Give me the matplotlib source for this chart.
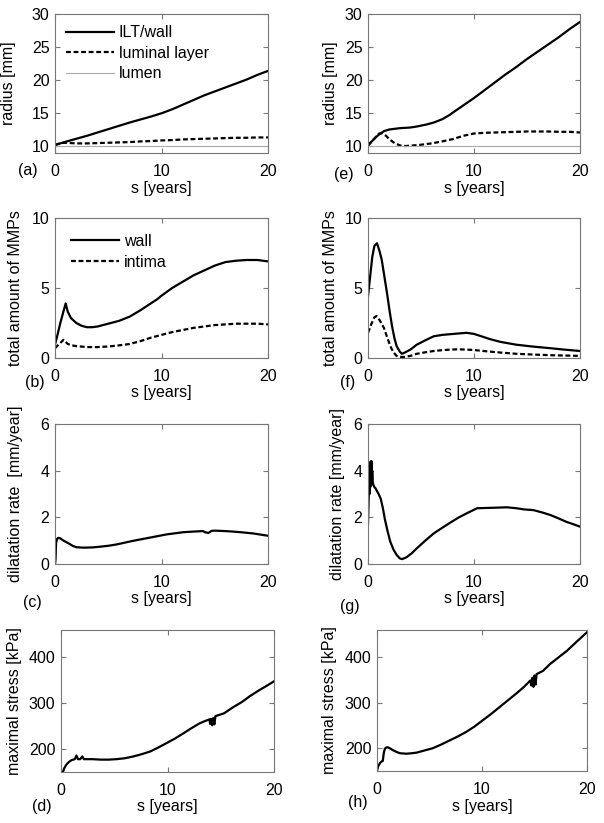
import matplotlib
matplotlib.use("Agg")
from matplotlib import pyplot as plt

plt.rcParams['font.family'] = ['Liberation Sans', 'DejaVu Sans']
plt.rcParams['font.size'] = 11.5

# (a) radius, case 1
s_a_wall = [0, 1, 2, 3, 4, 5, 6, 7, 8, 9, 10, 11, 12, 13, 14, 15, 16, 17, 18, 19, 20]
r_a_wall = [10.2, 10.7, 11.15, 11.6, 12.1, 12.6, 13.1, 13.6, 14.05, 14.5, 15.0, 15.6, 16.3,
            17.0, 17.7, 18.3, 18.9, 19.5, 20.1, 20.8, 21.4]
s_a_lum = [0, 0.5, 1, 2, 3, 4, 5, 6, 7, 8, 9, 10, 11, 12, 13, 14, 15, 16, 17, 18, 19, 20]
r_a_lum = [10.2, 10.5, 10.55, 10.45, 10.45, 10.5, 10.55, 10.6, 10.65, 10.75, 10.8, 10.9,
           10.95, 11.05, 11.1, 11.15, 11.2, 11.25, 11.3, 11.3, 11.35, 11.35]
s_lumen = [0, 20]
r_lumen = [10, 10]

# (e) radius, case 2
s_e_wall = [0, 0.5, 1, 1.5, 2, 3, 4, 4.6, 5.5, 6.2, 7, 7.75, 8, 9, 10, 11, 12, 13, 14, 15,
            16, 17, 18, 19, 20]
r_e_wall = [10.15, 11.0, 11.75, 12.3, 12.55, 12.75, 12.85, 13.0, 13.3, 13.6, 14.1, 14.8,
            15.1, 16.2, 17.3, 18.5, 19.7, 20.9, 22.0, 23.2, 24.3, 25.4, 26.5, 27.7, 28.8]
s_e_lum = [0, 0.5, 1, 1.3, 1.7, 2, 2.5, 3, 3.5, 4, 5, 6, 7, 8, 9, 10, 11, 12, 13, 14, 15,
           16, 17, 18, 19, 20]
r_e_lum = [10.15, 11.0, 11.9, 12.0, 11.6, 11.1, 10.5, 10.15, 10.05, 10.1, 10.25, 10.45,
           10.75, 11.1, 11.6, 11.95, 12.05, 12.1, 12.15, 12.2, 12.25, 12.25, 12.25, 12.2,
           12.2, 12.1]

# (b) MMPs, case 1
s_b_wall = [0, 0.25, 0.5, 0.75, 1.0, 1.2, 1.5, 2, 2.5, 3, 3.5, 4, 5, 6, 7, 8, 9, 9.6, 10,
            11, 12, 13, 14, 15, 16, 17, 18, 19, 20]
m_b_wall = [0.95, 1.7, 2.5, 3.2, 3.9, 3.3, 2.85, 2.5, 2.3, 2.2, 2.2, 2.25, 2.45, 2.65,
            2.95, 3.4, 3.9, 4.2, 4.45, 5.0, 5.45, 5.9, 6.25, 6.6, 6.85, 6.95, 7.0, 7.0, 6.9]
s_b_int = [0, 0.4, 0.8, 1.2, 1.6, 2, 3, 4, 5, 6, 7, 8, 9, 10, 11, 12, 13, 14, 15, 16, 17,
           18, 19, 20]
m_b_int = [0.7, 1.0, 1.3, 1.0, 0.9, 0.85, 0.78, 0.78, 0.82, 0.9, 1.0, 1.2, 1.45, 1.65,
           1.85, 2.0, 2.15, 2.25, 2.35, 2.4, 2.45, 2.45, 2.45, 2.4]

# (f) MMPs, case 2
s_f_wall = [0, 0.2, 0.4, 0.6, 0.85, 1.1, 1.3, 1.55, 1.8, 2.05, 2.26, 2.5, 2.7, 3.0, 3.2,
            3.5, 4, 4.6, 5.5, 6.2, 7, 7.75, 8.5, 9.3, 10, 10.5, 11.5, 12.5, 14, 15.5, 17.2,
            18.5, 20]
m_f_wall = [4.4, 5.8, 7.2, 8.0, 8.2, 7.6, 7.0, 5.8, 4.6, 3.3, 2.3, 1.4, 0.85, 0.45, 0.3,
            0.4, 0.6, 0.95, 1.3, 1.55, 1.65, 1.7, 1.75, 1.8, 1.72, 1.6, 1.35, 1.15, 0.95,
            0.82, 0.7, 0.6, 0.5]
s_f_int = [0, 0.3, 0.6, 0.8, 1.1, 1.5, 1.8, 2.1, 2.4, 2.7, 3.0, 3.4, 4, 4.6, 5.5, 6.2, 7,
           7.75, 8.5, 9.3, 10, 10.9, 12, 14, 15.5, 17.2, 20]
m_f_int = [1.8, 2.4, 2.9, 3.0, 2.7, 2.15, 1.5, 0.85, 0.4, 0.15, 0.08, 0.07, 0.15, 0.3,
           0.42, 0.5, 0.56, 0.6, 0.62, 0.6, 0.57, 0.5, 0.42, 0.3, 0.25, 0.2, 0.15]

# (c) dilatation rate, case 1
s_c = [0, 0.05, 0.1, 0.2, 0.3, 0.5, 0.8, 1.1, 1.4, 1.7, 2, 2.65, 3.5, 4.2, 5, 5.8, 7.3,
       8.9, 10.5, 12, 13, 13.9, 14.1, 14.4, 14.7, 15, 16, 16.7, 17.5, 18.6, 19.3, 20]
d_c = [0.0, 0.2, 0.9, 1.08, 1.12, 1.1, 1.0, 0.93, 0.85, 0.77, 0.72, 0.7, 0.71, 0.74, 0.78,
       0.84, 0.99, 1.13, 1.27, 1.36, 1.39, 1.41, 1.36, 1.33, 1.42, 1.43, 1.41, 1.39, 1.36,
       1.31, 1.26, 1.21]

# (g) dilatation rate, case 2
s_g = [0, 0.05, 0.1, 0.15, 0.2, 0.22, 0.25, 0.27, 0.3, 0.32, 0.35, 0.37, 0.4, 0.45, 0.5,
       0.6, 0.7, 1.0, 1.2, 1.4, 1.6, 1.85, 2.1, 2.4, 2.7, 3.0, 3.2, 3.5, 3.7, 4.1, 4.6,
       5.4, 6.2, 7, 7.75, 8.5, 9.3, 10.3, 11, 11.8, 13.1, 14, 14.7, 15.6, 16.5, 17.2, 18,
       18.7, 19.4, 20]
d_g = [1.7, 2.6, 3.4, 3.0, 4.2, 3.3, 4.4, 3.5, 4.3, 3.4, 4.4, 3.6, 4.0, 3.5, 3.4, 3.3,
       3.25, 3.0, 2.8, 2.4, 1.9, 1.4, 0.96, 0.62, 0.39, 0.24, 0.21, 0.26, 0.31, 0.45, 0.67,
       1.0, 1.31, 1.55, 1.77, 1.98, 2.17, 2.39, 2.4, 2.41, 2.43, 2.39, 2.34, 2.31, 2.2,
       2.1, 1.95, 1.81, 1.7, 1.6]

# (d) maximal stress, case 1
s_d = [0.1, 0.3, 0.5, 0.75, 1.0, 1.3, 1.45, 1.6, 1.8, 2.0, 2.15, 2.5, 3, 3.7, 4.5, 5.2,
       6, 6.8, 7.6, 8.4, 9.1, 9.9, 10.7, 11.5, 12.2, 13, 13.5, 13.95, 14.0, 14.1, 14.2,
       14.3, 14.4, 14.5, 15.3, 16.2, 17, 17.7, 18.5, 19.3, 20]
p_d = [145, 158, 166, 172, 176, 178, 186, 178, 178, 184, 178, 178, 178, 177, 177, 178,
       180, 184, 189, 195, 203, 213, 223, 234.5, 245, 256, 261, 265, 255, 266, 252, 268,
       254, 272, 278, 292, 303, 315, 327, 338, 348]

# (h) maximal stress, case 2
s_h = [0, 0.1, 0.3, 0.45, 0.55, 0.65, 0.75, 0.9, 1.05, 1.3, 1.5, 1.85, 2.2, 2.8, 3.3,
       3.8, 4.5, 5.3, 6.1, 6.9, 7.7, 8.5, 9.3, 10.1, 10.9, 11.7, 12.5, 13.3, 14.0, 14.6,
       14.7, 14.8, 14.9, 15.0, 15.1, 15.2, 15.8, 16.5, 17.3, 18.1, 19, 20]
p_h = [150, 160, 168, 171, 172, 190, 199, 202, 202, 199, 196, 192, 189, 188, 189, 190.5,
       195, 200, 208, 217, 226, 236, 248, 262, 276, 291, 306, 321, 335, 349, 338, 355,
       335, 360, 340, 363, 370, 385.5, 400, 414.5, 434, 455]

W, H = 604, 823
fig = plt.figure(figsize=(W / 100, H / 100), dpi=100)


def add_ax(left, right, top, bottom, ylabel, label_x):
    ax = fig.add_axes([left / W, 1 - bottom / H, (right - left) / W, (bottom - top) / H])
    for sp in ax.spines.values():
        sp.set_color('#777777')
        sp.set_linewidth(0.8)
    ax.tick_params(direction='in', top=True, right=True, length=3.5, color='#777777',
                   width=0.8, labelsize=11.5, pad=4)
    ax.tick_params(axis='x', pad=8)
    ax.set_xlim(0, 20)
    ax.set_xticks([0, 10, 20])
    ax.set_xlabel('s [years]', labelpad=1)
    ax.set_ylabel(ylabel)
    ax.yaxis.set_label_coords((label_x - left) / (right - left), 0.5)
    return ax


lw = 1.6
dash = (2.2, 1.2)

ax = add_ax(55, 268, 14, 153, 'radius [mm]', 16)
ax.plot(s_a_wall, r_a_wall, 'k-', lw=lw, label='ILT/wall')
ax.plot(s_a_lum, r_a_lum, 'k--', lw=lw, dashes=dash, label='luminal layer')
ax.plot(s_lumen, r_lumen, '-', color='#aaaaaa', lw=0.8, label='lumen')
ax.set_ylim(9, 30)
ax.set_yticks([10, 15, 20, 25, 30])
ax.legend(loc='upper left', frameon=False, handlelength=3.0, borderaxespad=0.3,
          labelspacing=0.35, handletextpad=0.3, fontsize=11.5)

ax = add_ax(368, 580, 14, 153, 'radius [mm]', 338)
ax.plot(s_e_wall, r_e_wall, 'k-', lw=lw)
ax.plot(s_e_lum, r_e_lum, 'k--', lw=lw, dashes=dash)
ax.plot(s_lumen, r_lumen, '-', color='#aaaaaa', lw=0.8)
ax.set_ylim(9, 30)
ax.set_yticks([10, 15, 20, 25, 30])

ax = add_ax(55, 268, 218, 358, 'total amount of MMPs', 23)
ax.plot(s_b_wall, m_b_wall, 'k-', lw=lw, label='wall')
ax.plot(s_b_int, m_b_int, 'k--', lw=lw, dashes=dash, label='intima')
ax.set_ylim(0, 10)
ax.set_yticks([0, 5, 10])
ax.legend(loc='upper left', frameon=False, handlelength=3.0, borderaxespad=0.6,
          labelspacing=0.35, handletextpad=0.3, fontsize=11.5)

ax = add_ax(368, 580, 218, 358, 'total amount of MMPs', 338)
ax.plot(s_f_wall, m_f_wall, 'k-', lw=lw)
ax.plot(s_f_int, m_f_int, 'k--', lw=lw, dashes=dash)
ax.set_ylim(0, 10)
ax.set_yticks([0, 5, 10])

ax = add_ax(55, 268, 424, 564, 'dilatation rate  [mm/year]', 23)
ax.plot(s_c, d_c, 'k-', lw=lw)
ax.set_ylim(0, 6)
ax.set_yticks([0, 2, 4, 6])

ax = add_ax(368, 580, 424, 564, 'dilatation rate [mm/year]', 345)
ax.plot(s_g, d_g, 'k-', lw=lw)
ax.set_ylim(0, 6)
ax.set_yticks([0, 2, 4, 6])

ax = add_ax(61, 274, 630, 772, 'maximal stress [kPa]', 22)
ax.plot(s_d, p_d, 'k-', lw=lw)
ax.set_ylim(150, 460)
ax.set_yticks([200, 300, 400])

ax = add_ax(377, 587, 630, 771, 'maximal stress [kPa]', 337)
ax.plot(s_h, p_h, 'k-', lw=lw)
ax.set_ylim(150, 460)
ax.set_yticks([200, 300, 400])

panel_tags = ['(a)', '(b)', '(c)', '(d)', '(e)', '(f)', '(g)', '(h)']
tag_xy = [(18, 170), (25, 382), (23, 603), (32, 806), (334, 175), (340, 383), (340, 607),
          (348, 802)]
for tag, (x, y) in zip(panel_tags, tag_xy):
    fig.text(x / W, 1 - y / H, tag, ha='left', va='center', fontsize=11.5)

fig.savefig('out.png', dpi=100)
